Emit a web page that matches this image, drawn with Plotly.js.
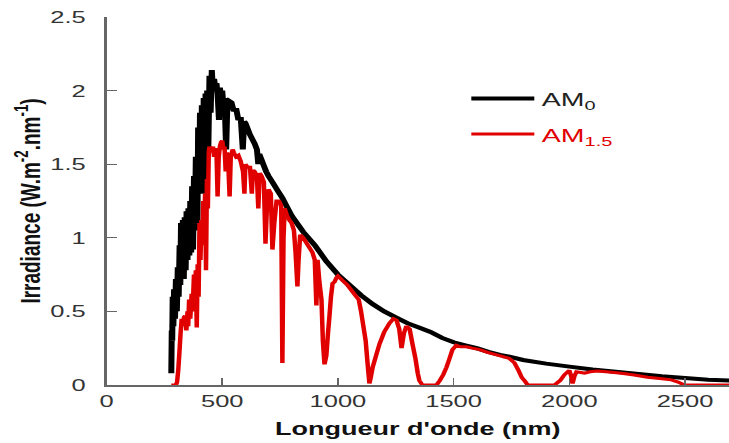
<!DOCTYPE html>
<html><head><meta charset="utf-8">
<script src="https://cdn.plot.ly/plotly-3.0.1.min.js"></script>
<style>
html,body{margin:0;padding:0;overflow:hidden;background:#fff;}
#wrap{width:729px;height:443px;overflow:hidden;}
#chart{width:486px;height:443px;transform:scaleX(1.5);transform-origin:0 0;}
</style></head><body><div id="wrap"><div id="chart"></div></div>
<script>
// AM0 spectrum (black)
const wavelengthAM0 = [280,282,284,286,289,292,296,300,304,308,312,316,319,322,326,330,334,338,342,346,350,354,358,362,366,370,374,378,382,386,390,393,396,400,404,408,412,416,420,424,428,431,435,440,445,450,455,460,465,470,475,480,486,490,495,500,505,510,517,522,530,540,550,560,570,580,589,595,600,610,620,630,640,650,656,660,670,680,690,700,720,740,760,780,800,850,900,950,1000,1050,1100,1150,1200,1250,1300,1350,1400,1450,1500,1550,1600,1650,1700,1750,1800,1900,2000,2100,2200,2300,2400,2500,2600,2700];
const irradianceAM0 = [0.08,0.37,0.30,0.60,0.40,0.65,0.45,0.72,0.50,0.80,0.60,0.95,0.68,1.10,0.75,1.12,0.72,1.14,0.78,1.18,0.85,1.20,0.88,1.25,0.90,1.35,0.92,1.42,1.05,1.55,1.20,1.10,1.75,1.30,1.85,1.30,1.90,1.35,1.95,1.40,1.98,1.30,2.00,1.60,2.10,1.85,2.14,2.00,2.08,2.02,2.05,1.98,1.80,2.02,1.95,2.00,1.90,1.95,1.60,1.90,1.93,1.92,1.86,1.88,1.80,1.82,1.60,1.79,1.78,1.74,1.70,1.67,1.64,1.60,1.50,1.57,1.53,1.49,1.45,1.42,1.37,1.32,1.27,1.21,1.15,1.04,0.95,0.84,0.75,0.68,0.61,0.55,0.50,0.46,0.42,0.39,0.36,0.32,0.29,0.27,0.25,0.225,0.205,0.19,0.17,0.145,0.125,0.105,0.09,0.075,0.06,0.048,0.036,0.03];

// AM1.5 spectrum (red)
const wavelengthAM15 = [280,300,305,310,315,320,325,330,335,340,345,350,353,357,362,368,372,378,382,386,390,394,398,402,406,410,414,418,422,426,430,434,438,442,445,450,455,460,465,470,475,480,485,490,495,500,505,510,515,520,525,532,537,545,550,560,570,580,590,596,600,610,620,628,633,640,650,656,662,670,680,687,693,700,710,717,725,735,745,755,760,765,770,780,790,800,810,817,825,830,837,850,870,890,900,907,912,920,929,935,942,950,957,963,970,977,985,994,1000,1020,1040,1060,1080,1090,1100,1110,1120,1128,1136,1142,1150,1165,1180,1200,1223,1240,1253,1265,1275,1285,1296,1310,1322,1335,1345,1352,1365,1426,1440,1455,1469,1480,1495,1512,1530,1555,1580,1612,1650,1698,1720,1741,1763,1780,1795,1806,1820,1936,1960,1979,2000,2008,2014,2022,2031,2050,2066,2090,2121,2170,2225,2280,2338,2400,2441,2470,2497,2700];
const irradianceAM15 = [0,0,0.02,0.10,0.22,0.35,0.45,0.40,0.46,0.47,0.37,0.50,0.40,0.58,0.45,0.62,0.50,0.75,0.55,0.78,0.39,0.82,0.60,1.10,0.85,1.12,0.95,1.25,1.05,1.30,0.78,1.40,1.20,1.58,1.62,1.58,1.60,1.62,1.55,1.60,1.60,1.28,1.55,1.62,1.65,1.66,1.60,1.62,1.45,1.58,1.55,1.28,1.55,1.60,1.58,1.55,1.56,1.52,1.45,1.30,1.50,1.48,1.48,1.30,1.46,1.45,1.42,1.20,1.44,1.42,1.38,0.96,1.20,1.33,1.30,0.92,1.10,1.25,1.25,1.22,0.15,1.00,1.20,1.15,1.12,1.10,1.05,0.90,0.67,0.85,1.02,1.00,0.95,0.90,0.85,0.54,0.85,0.70,0.58,0.30,0.14,0.20,0.35,0.46,0.60,0.69,0.70,0.73,0.74,0.71,0.68,0.64,0.60,0.58,0.50,0.40,0.30,0.15,0.01,0.05,0.12,0.20,0.28,0.36,0.42,0.45,0.44,0.38,0.25,0.35,0.40,0.38,0.28,0.18,0.08,0.03,0,0,0.03,0.07,0.12,0.17,0.24,0.27,0.26,0.26,0.25,0.24,0.22,0.20,0.19,0.18,0.15,0.10,0.05,0.03,0,0,0.03,0.07,0.10,0.06,0.01,0.06,0.09,0.085,0.08,0.09,0.095,0.088,0.08,0.068,0.053,0.042,0.035,0.02,0,0];

const seriesNames = ['AM<sub>0</sub>', '<span style="color:#e10000">AM<sub>1.5</sub></span>'];
const xTickVals = [0,500,1000,1500,2000,2500];
const yTickVals = [0,0.5,1,1.5,2,2.5];
const yTickText = ['0','0.5','1','1.5','2','2.5'];

const FONT = 'Liberation Sans, Arial, sans-serif';

const traces = [
  {x: wavelengthAM0, y: irradianceAM0, type: 'scatter', mode: 'lines', name: seriesNames[0],
   legendgroup: 'a', line: {color: '#000000', width: 4, simplify: false}},
  {x: wavelengthAM15, y: irradianceAM15, type: 'scatter', mode: 'lines', name: seriesNames[1],
   legendgroup: 'b', line: {color: '#e10000', width: 3, simplify: false}}
];

const layout = {
  width: 486, height: 443,
  margin: {l: 71.33, r: 0, t: 17, b: 58, pad: 0},
  paper_bgcolor: '#ffffff', plot_bgcolor: '#ffffff',
  showlegend: true,
  legend: {x: 0.574, y: 0.83, xanchor: 'left', yanchor: 'top', bgcolor: 'rgba(0,0,0,0)', itemwidth: 42,
    font: {family: FONT, size: 19, color: '#222222'}, tracegroupgap: 8},
  xaxis: {
    range: [0, 2690], tickvals: xTickVals, ticks: 'inside', ticklen: 7, tickwidth: 1, tickcolor: '#666666',
    showline: true, linecolor: '#666666', linewidth: 1.5, showgrid: false, zeroline: false,
    tickfont: {family: FONT, size: 17, color: '#333333'},
    title: {text: "Longueur d'onde (nm)", standoff: 12, font: {family: FONT, size: 18, color: '#111111', weight: 'bold'}}
  },
  yaxis: {
    range: [0, 2.5], tickvals: yTickVals, ticktext: yTickText, ticks: 'inside', ticklen: 7, tickwidth: 1, tickcolor: '#666666',
    showline: true, linecolor: '#666666', linewidth: 1.5, showgrid: false, zeroline: false,
    ticklabelstandoff: 9,
    tickfont: {family: FONT, size: 17, color: '#333333'},
    title: {text: 'Irradiance (W.m<sup>-2</sup>.nm<sup>-1</sup>)', standoff: 1, font: {family: FONT, size: 19, color: '#111111', weight: 'bold'}}
  }
};

Plotly.newPlot('chart', traces, layout, {staticPlot: true, displayModeBar: false});
</script></body></html>
